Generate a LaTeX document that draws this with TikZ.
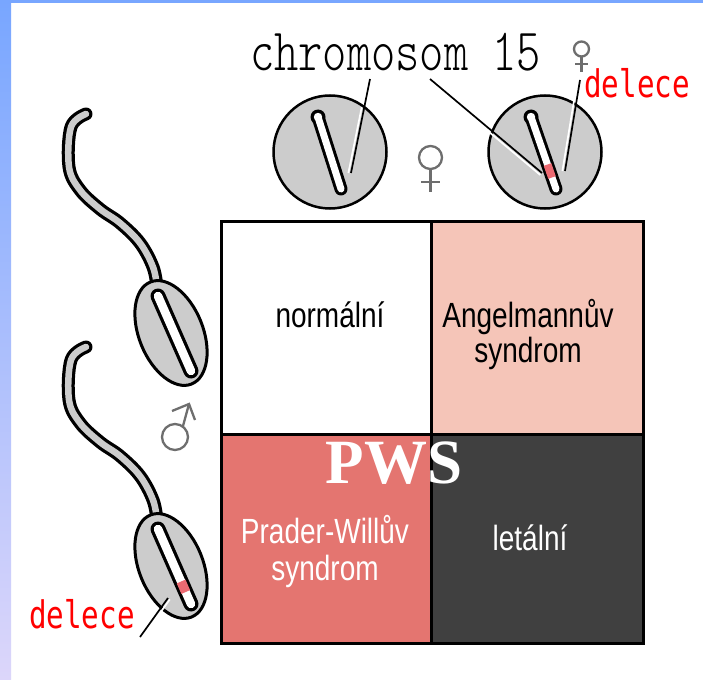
\documentclass[tikz,border=0pt]{standalone}
\usepackage{fontspec}
\setmainfont{Liberation Sans}
\newfontfamily\labelfont{Liberation Sans}
\newfontfamily\delfont{DejaVu Sans Mono}
\newfontfamily\pwsfont{Liberation Serif}
\newfontfamily\monofont{lmmonolt10-regular.otf}
\usetikzlibrary{calc}

\definecolor{edgeblue}{HTML}{78A6FF}
\definecolor{edgelav}{HTML}{DCD6FA}
\definecolor{cellgray}{HTML}{CCCCCC}
\definecolor{angel}{HTML}{F5C5B8}
\definecolor{prader}{HTML}{E47570}
\definecolor{lethal}{HTML}{404040}
\definecolor{symgray}{HTML}{6E6E6E}
\definecolor{delred}{HTML}{FF0000}
\definecolor{delpink}{HTML}{EC6A72}

\tikzset{
  cell/.style={rectangle, draw=black, line width=3pt, inner sep=0pt},
  celltext/.style={font=\labelfont\fontsize{35}{35}\selectfont, xscale=0.8, anchor=base, inner sep=0pt},
  deltext/.style={font=\delfont\fontsize{38}{38}\selectfont, text=delred, xscale=0.77, anchor=base west, inner sep=0pt},
  nucleus/.style={circle, draw=black, line width=2.5pt, fill=cellgray, minimum size=113pt, inner sep=0pt},
  pointer/.style={line width=1.7pt},
  glint/.style={white, line width=1.7pt},
  gsymbol/.style={draw=symgray, line width=2.3pt},
  rodedge/.style={line width=13pt, line cap=round},
  rodcore/.style={white, line width=7pt, line cap=round},
  spermrodedge/.style={line width=15pt, line cap=round},
  spermrodcore/.style={white, line width=8.5pt, line cap=round},
  knobedge/.style={fill=black},
  knobcore/.style={fill=white},
  delseg/.style={delpink, line width=8pt},
  tailedge/.style={line width=13pt, line cap=round, line join=round},
  tailcore/.style={cellgray, line width=6.5pt, line cap=round, line join=round},
  headshape/.style={draw=black, line width=3pt, fill=cellgray},
  pics/spermcell/.style={code={
    \draw[tailedge] plot[smooth, tension=0.6] coordinates {(-14,-46) (-18,-66) (-31,-90) (-51,-110) (-71,-124) (-91,-143) (-102,-166) (-100,-206) (-85,-219)};
    \draw[tailcore] plot[smooth, tension=0.6] coordinates {(-14,-46) (-18,-66) (-31,-90) (-51,-110) (-71,-124) (-91,-143) (-102,-166) (-100,-206) (-85,-219)};
    \draw[headshape, rotate=22] (0,0) ellipse [x radius=32pt, y radius=55pt];
    \coordinate (-rodtop) at (-13,-37);
    \coordinate (-rodbot) at (20,38);
    \draw[spermrodedge] (-rodtop) -- (-rodbot);
    \draw[spermrodcore] (-rodtop) -- (-rodbot);
  }}
}

\begin{document}
\begin{tikzpicture}[x=1pt,y=-1pt]
\useasboundingbox (0,0) rectangle (703,679);
% page ground with tinted left and top edges
\fill[white] (0,0) rectangle (703,679);
\shade[top color=edgeblue, bottom color=edgelav] (0,0) rectangle (11,679);
\fill[edgeblue] (0,0) rectangle (703,3.5);

% inheritance table
\node[cell, fill=white,  minimum width=210pt, minimum height=213pt] (norm)  at (326,327.5) {};
\node[cell, fill=angel,  minimum width=212pt, minimum height=213pt] (angel) at (537,327.5) {};
\node[cell, fill=prader, minimum width=210pt, minimum height=209pt] (pws)   at (326,538.5) {};
\node[cell, fill=lethal, minimum width=212pt, minimum height=209pt] (leth)  at (537,538.5) {};

\node[celltext] (tnorm) at (330,327) {normální};
\node[celltext] (tang1) at (528,327) {Angelmannův};
\node[celltext] (tang2) at (528,362) {syndrom};
\node[celltext, text=white] (tpws1) at (325,543) {Prader-Willův};
\node[celltext, text=white] (tpws2) at (325,580) {syndrom};
\node[celltext, text=white] (tleth) at (530,550) {letální};
\node[font=\pwsfont\bfseries\fontsize{63}{63}\selectfont, text=white, anchor=base, inner sep=0pt] (tpws) at (394,483) {PWS};

% maternal chromosome 15 pair
\node[nucleus] (egg1) at (330,152) {};
\node[nucleus] (egg2) at (545,152) {};

\coordinate (r1top) at (318,117);
\coordinate (r1bot) at (341,189);
\draw[rodedge] (r1top) -- (r1bot);
\fill[knobedge] (r1top) circle (7.5pt);
\draw[rodcore] (r1top) -- (r1bot);
\fill[knobcore] (r1top) circle (4.2pt);

\coordinate (r2top) at (531,117);
\coordinate (r2bot) at (556,189);
\draw[rodedge] (r2top) -- (r2bot);
\fill[knobedge] (r2top) circle (7.5pt);
\draw[rodcore] (r2top) -- (r2bot);
\fill[knobcore] (r2top) circle (4.2pt);
\draw[delseg] ($(r2top)!0.66!(r2bot)$) -- ($(r2top)!0.84!(r2bot)$);

% labels above
\node[font=\monofont\fontsize{60}{60}\selectfont, xscale=0.77, anchor=base west, inner sep=0pt] (chrlbl) at (250,71) {chromosom 15};
\node[deltext] (del1) at (584,98) {delece};

\coordinate (p1) at (370,79);
\coordinate (q1) at (351,173);
\coordinate (p2) at (430,79);
\coordinate (q2) at (542,173);
\coordinate (p3) at (580,80);
\coordinate (q3) at (565,171);
\draw[glint] ($(p1)!0.3!(q1)+(-2.6,0)$) -- ($(q1)+(-2.6,0)$);
\draw[pointer] (p1) -- (q1);
\draw[glint] ($(p2)!0.55!(q2)+(-1.7,2)$) -- ($(q2)+(-1.7,2)$);
\draw[pointer] (p2) -- (q2);
\draw[glint] ($(p3)!0.2!(q3)+(-2.6,0)$) -- ($(q3)+(-2.6,0)$);
\draw[pointer] (p3) -- (q3);

% female signs
\draw[gsymbol] (430.5,157.5) circle (11.5pt);
\draw[gsymbol] (430.5,169) -- (430.5,192);
\draw[gsymbol] (421,182) -- (440,182);
\draw[gsymbol] (581.5,49) circle (7.5pt);
\draw[gsymbol] (581.5,56.5) -- (581.5,72);
\draw[gsymbol] (575,64) -- (588,64);

% paternal sperm cells
\pic (s1) at (171,333) {spermcell};
\pic (s2) at (171,566) {spermcell};
\draw[delseg, line width=9.5pt] ($(s2-rodtop)!0.7!(s2-rodbot)$) -- ($(s2-rodtop)!0.84!(s2-rodbot)$);

\node[deltext] (del2) at (29,628) {delece};
\coordinate (p4) at (140,637);
\coordinate (q4) at (168,598);
\draw[glint] ($(p4)!0.6!(q4)+(1.8,1.4)$) -- ($(q4)+(1.8,1.4)$);
\draw[pointer] (p4) -- (q4);

% male sign
\draw[gsymbol] (175,437) circle (13pt);
\draw[gsymbol] (183,426) -- (189,404);
\draw[gsymbol] (172,411) -- (189,404) -- (195,420);
\end{tikzpicture}
\end{document}
